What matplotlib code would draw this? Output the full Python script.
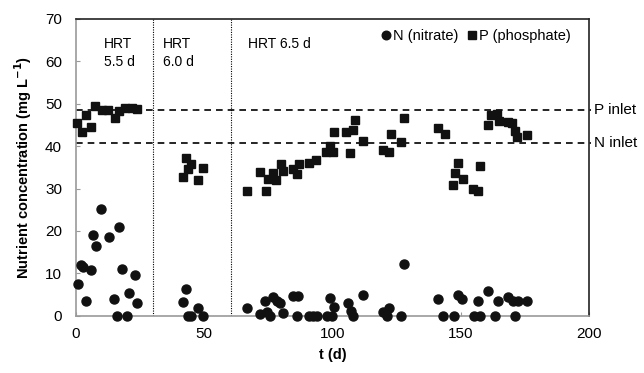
import matplotlib
matplotlib.use("Agg")
import matplotlib.pyplot as plt

plt.rcParams['font.family'] = ['Liberation Sans', 'DejaVu Sans']

# Nitrate (N) data
n_t = [0.7, 1.8, 2.8, 3.9, 5.8, 6.8, 7.8, 9.7, 12.9, 14.8, 15.9, 16.8, 17.8, 20.0, 20.8, 23.0, 23.9,
       41.8, 42.8, 43.8, 45.0, 47.7, 49.6,
       66.8, 71.7, 73.7, 74.6, 75.6, 76.9, 78.2, 79.5, 80.8, 84.7, 86.0, 86.7, 90.6, 92.2, 93.8,
       97.7, 98.8, 99.7, 100.6, 105.8, 107.1, 107.8, 111.8, 119.5, 121.1, 122.1, 126.7, 127.9,
       140.9, 143.2, 147.1, 148.7, 150.4, 154.9, 156.8, 157.5, 160.7, 163.4, 164.6, 168.5, 170.2,
       171.2, 172.4, 175.7]
n_c = [7.5, 12.0, 11.6, 3.4, 10.8, 19.1, 16.4, 25.1, 18.7, 4.0, 0.0, 20.9, 11.0, 0.0, 5.5, 9.7, 3.0,
       3.3, 6.4, 0.0, 0.0, 1.9, 0.0,
       1.8, 0.5, 3.4, 1.0, 0.0, 4.4, 3.4, 3.0, 0.6, 4.6, 0.0, 4.6, 0.0, 0.0, 0.0,
       0.0, 4.3, 0.0, 2.2, 3.1, 1.2, 0.0, 5.0, 1.0, 0.0, 1.8, 0.0, 12.2,
       3.9, 0.0, 0.0, 5.0, 3.9, 0.0, 3.6, 0.0, 5.9, 0.0, 3.4, 4.4, 3.4,
       0.0, 3.4, 3.4]

# Phosphate (P) data
p_t = [0.5, 2.5, 3.9, 5.7, 7.4, 10.0, 12.6, 15.2, 16.9, 19.1, 21.7, 23.7,
       41.8, 42.8, 43.8, 44.7, 47.7, 49.6,
       66.8, 71.7, 73.9, 75.0, 76.9, 78.0, 79.8, 80.8, 84.7, 86.0, 86.8, 90.6, 93.6, 97.5, 99.0,
       100.0, 100.7, 105.3, 106.8, 107.8, 108.8, 111.8, 119.8, 121.8, 122.8, 126.7, 127.8,
       140.9, 143.6, 146.9, 147.8, 148.7, 150.8, 154.7, 156.8, 157.5,
       160.7, 161.8, 164.0, 165.0, 168.5, 169.9, 171.2, 171.9, 175.7]
p_c = [45.5, 43.3, 47.3, 44.5, 49.5, 48.5, 48.4, 46.6, 48.3, 49.0, 49.0, 48.8,
       32.6, 37.2, 34.6, 35.8, 32.0, 34.8,
       29.5, 34.0, 29.3, 32.3, 33.7, 32.0, 35.8, 34.1, 34.6, 33.4, 35.8, 36.0, 36.8, 38.6, 39.9,
       38.6, 43.4, 43.4, 38.4, 43.7, 46.2, 41.2, 39.0, 38.7, 42.8, 41.0, 46.6,
       44.2, 42.9, 30.8, 33.7, 36.0, 32.2, 29.9, 29.5, 35.3,
       44.9, 47.2, 47.6, 46.0, 45.7, 45.5, 43.6, 42.1, 42.5]

phase_bounds = [30.2, 60.4]
phase_labels = ["HRT\n5.5 d", "HRT\n6.0 d", "HRT 6.5 d"]
phase_label_x = [11, 34, 67]
inlet_vals = [48.4, 40.8]
inlet_labels = ["P inlet", "N inlet"]

fig = plt.figure(figsize=(6.44, 3.73), dpi=100)
ax = fig.add_axes([0.118, 0.153, 0.797, 0.797])

ax.plot(n_t, n_c, 'o', color='#111111', markersize=6.5, linestyle='none',
        label='N (nitrate)', clip_on=False, zorder=3)
ax.plot(p_t, p_c, 's', color='#111111', markersize=6.3, linestyle='none',
        label='P (phosphate)', clip_on=False, zorder=3)

for b in phase_bounds:
    ax.axvline(b, color='black', linestyle=(0, (1, 1.2)), linewidth=0.8, zorder=1)

for v, lab in zip(inlet_vals, inlet_labels):
    ax.plot([0, 200.5], [v, v], color='black', linestyle=(0, (4, 3)), linewidth=1.2,
            clip_on=False, zorder=2)
    ax.text(201.8, v, lab, fontsize=11, va='center', ha='left')

for x, lab in zip(phase_label_x, phase_labels):
    ax.text(x, 65.6, lab, fontsize=10, va='top', ha='left', linespacing=1.35)

ax.set_xlim(0, 200)
ax.set_ylim(0, 70)
ax.set_xticks([0, 50, 100, 150, 200])
ax.set_yticks(range(0, 71, 10))
ax.tick_params(axis='both', labelsize=11, direction='in', length=3, color='#999999')
ax.tick_params(axis='y', pad=10)
ax.tick_params(axis='x', pad=8)

for s in ['left', 'bottom']:
    ax.spines[s].set_color('#999999')
    ax.spines[s].set_linewidth(1.2)
for s in ['top', 'right']:
    ax.spines[s].set_color('#222222')
    ax.spines[s].set_linewidth(1.2)

ax.set_xlabel('t (d)', fontsize=10.5, fontweight='bold', labelpad=5)
ax.set_ylabel('Nutrient concentration (mg L$^{\\mathbf{-1}}$)', fontsize=10.5,
              fontweight='bold', labelpad=8)

leg = ax.legend(loc='upper right', ncol=2, frameon=False, fontsize=10.5,
                handletextpad=0.0, columnspacing=0.5, handlelength=0.9,
                markerscale=0.95, borderaxespad=0.0, bbox_to_anchor=(0.975, 0.985))

fig.savefig('out.png', dpi=100)
